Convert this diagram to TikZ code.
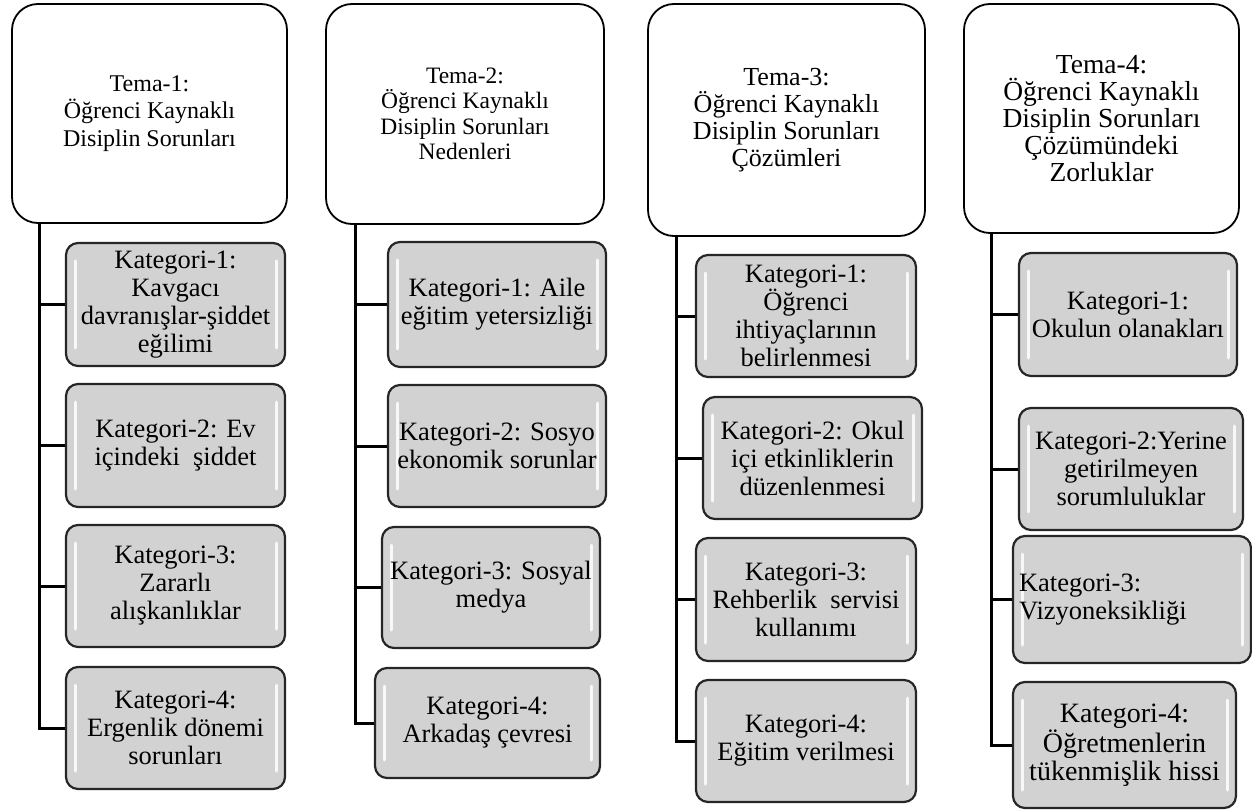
\documentclass[tikz,border=0pt]{standalone}
\usepackage{fontspec}
\setmainfont{Liberation Serif}
\definecolor{kgray}{HTML}{D2D2D2}
\tikzset{
  tema/.style={draw=black, line width=1.8pt, rounded corners=26pt, fill=white,
    align=center, inner sep=4pt},
  kat/.style={draw=black!85, line width=2.2pt, rounded corners=12pt, fill=kgray,
    align=center, inner sep=3pt, font=\fontsize{26.5}{28}\selectfont,
    path picture={
      \draw[white, line width=3pt, line cap=round, opacity=0.85]
        ([xshift=9pt,yshift=-18pt]path picture bounding box.north west) --
        ([xshift=9pt,yshift=18pt]path picture bounding box.south west);
      \draw[white, line width=3pt, line cap=round, opacity=0.85]
        ([xshift=-9pt,yshift=-18pt]path picture bounding box.north east) --
        ([xshift=-9pt,yshift=18pt]path picture bounding box.south east);
    }},
  conn/.style={draw=black, line width=3pt}
}
\begin{document}
\begin{tikzpicture}[x=1pt,y=1pt]
\useasboundingbox (0,0) rectangle (1252,-810);
% ---------- column 1
\node[tema, minimum width=275pt, minimum height=219pt, font=\fontsize{24}{27.5}\selectfont]
  (t1) at (149.5,-113.5) {Tema-1:\\Öğrenci Kaynaklı\\Disiplin Sorunları};
\node[kat, minimum width=219pt, minimum height=123pt] (a1) at (175.5,-304.5)
  {Kategori-1:\\Kavgacı\\davranışlar-şiddet\\eğilimi};
\node[kat, minimum width=219pt, minimum height=123pt] (a2) at (175.5,-445.5)
  {Kategori-2: Ev\\içindeki\ \ şiddet};
\node[kat, minimum width=219pt, minimum height=122pt] (a3) at (175.5,-586)
  {Kategori-3:\\Zararlı\\alışkanlıklar};
\node[kat, minimum width=219pt, minimum height=122pt] (a4) at (175.5,-728)
  {Kategori-4:\\Ergenlik dönemi\\sorunları};
\coordinate (ra) at ([xshift=28pt]t1.south west);
\foreach \k in {a1,a2,a3,a4} \draw[conn] (ra) |- (\k.west);
% ---------- column 2
\node[tema, minimum width=278pt, minimum height=220pt, font=\fontsize{23.5}{25.5}\selectfont]
  (t2) at (465,-114) {Tema-2:\\Öğrenci Kaynaklı\\Disiplin Sorunları\\Nedenleri};
\node[kat, minimum width=218pt, minimum height=125pt] (b1) at (497,-304.5)
  {Kategori-1: Aile\\eğitim yetersizliği};
\node[kat, minimum width=218pt, minimum height=122pt] (b2) at (497,-446)
  {Kategori-2: Sosyo\\ekonomik sorunlar};
\node[kat, minimum width=218pt, minimum height=121pt] (b3) at (491,-587.5)
  {Kategori-3: Sosyal\\medya};
\node[kat, minimum width=225pt, minimum height=110pt] (b4) at (487.5,-723)
  {Kategori-4:\\Arkadaş çevresi};
\coordinate (rb) at ([xshift=30pt]t2.south west);
\foreach \k in {b1,b2,b3,b4} \draw[conn] (rb) |- (\k.west);
% ---------- column 3
\node[tema, minimum width=277pt, minimum height=232pt, font=\fontsize{26}{27}\selectfont]
  (t3) at (786.5,-120) {Tema-3:\\Öğrenci Kaynaklı\\Disiplin Sorunları\\Çözümleri};
\node[kat, minimum width=220pt, minimum height=122pt] (c1) at (806,-316)
  {Kategori-1:\\Öğrenci\\ihtiyaçlarının\\belirlenmesi};
\node[kat, minimum width=219pt, minimum height=122pt] (c2) at (812.5,-458)
  {Kategori-2: Okul\\içi etkinliklerin\\düzenlenmesi};
\node[kat, minimum width=220pt, minimum height=123pt] (c3) at (806,-599.5)
  {Kategori-3:\\Rehberlik\ \ servisi\\kullanımı};
\node[kat, minimum width=220pt, minimum height=122pt] (c4) at (806,-741)
  {Kategori-4:\\Eğitim verilmesi};
\coordinate (rc) at ([xshift=29pt]t3.south west);
\foreach \k in {c1,c2,c3,c4} \draw[conn] (rc) |- (\k.west);
% ---------- column 4
\node[tema, minimum width=275pt, minimum height=229pt, font=\fontsize{27.5}{27}\selectfont]
  (t4) at (1101.5,-118.5) {Tema-4:\\Öğrenci Kaynaklı\\Disiplin Sorunları\\Çözümündeki\\Zorluklar};
\node[kat, minimum width=218pt, minimum height=123pt] (d1) at (1128,-314.5)
  {Kategori-1:\\Okulun olanakları};
\node[kat, minimum width=224pt, minimum height=122pt] (d2) at (1131,-469)
  {Kategori-2:Yerine\\getirilmeyen\\sorumluluklar};
\node[kat, text width=226pt, inner xsep=6pt, align=left, minimum height=127pt] (d3) at (1132,-599.5)
  {Kategori-3:\\Vizyoneksikliği};
\node[kat, minimum width=223pt, minimum height=126pt, font=\fontsize{28}{28}\selectfont] (d4) at (1124.5,-745)
  {Kategori-4:\\Öğretmenlerin\\tükenmişlik hissi};
\coordinate (rd) at ([xshift=28pt]t4.south west);
\foreach \k in {d1,d2,d3,d4} \draw[conn] (rd) |- (\k.west);
\end{tikzpicture}
\end{document}
